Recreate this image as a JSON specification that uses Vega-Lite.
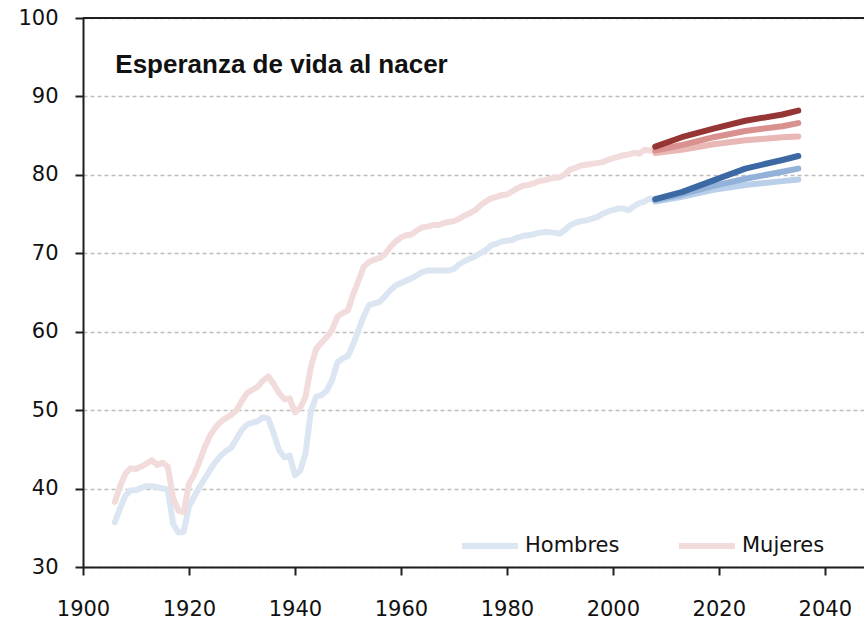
{
  "$schema": "https://vega.github.io/schema/vega-lite/v6.json",
  "width": 781,
  "height": 549,
  "autosize": {"type": "none"},
  "padding": {"left": 83, "top": 18, "right": 0, "bottom": 55},
  "background": "white",
  "config": {
    "view": {"stroke": null},
    "font": "DejaVu Sans",
    "axis": {
      "domainColor": "#1f1f1f",
      "domainWidth": 2,
      "tickColor": "#1f1f1f",
      "tickWidth": 2,
      "tickSize": 8,
      "labelFont": "DejaVu Sans",
      "labelFontSize": 21,
      "labelColor": "#111111",
      "labelFlush": false,
      "labelOverlap": false,
      "title": null,
      "gridColor": "#bdbdbd",
      "gridDash": [4, 3],
      "gridWidth": 1.5
    }
  },
  "layer": [
    {
      "data": {"values": [{"v": 100}]},
      "mark": {"type": "rule", "color": "#1f1f1f", "strokeWidth": 2},
      "encoding": {"y": {"field": "v", "type": "quantitative", "scale": {"domain": [30, 100], "nice": false, "zero": false}}}
    },
    {
      "data": {"values": [
        {"serie":"Hombres","year":1906,"value":35.7},{"serie":"Hombres","year":1907,"value":37.5},{"serie":"Hombres","year":1908,"value":39.1},{"serie":"Hombres","year":1909,"value":39.8},{"serie":"Hombres","year":1910,"value":39.8},{"serie":"Hombres","year":1911,"value":40.1},{"serie":"Hombres","year":1912,"value":40.3},{"serie":"Hombres","year":1913,"value":40.3},{"serie":"Hombres","year":1914,"value":40.2},{"serie":"Hombres","year":1915,"value":40.0},{"serie":"Hombres","year":1916,"value":39.9},{"serie":"Hombres","year":1917,"value":35.5},{"serie":"Hombres","year":1918,"value":34.4},{"serie":"Hombres","year":1919,"value":34.5},{"serie":"Hombres","year":1920,"value":37.7},{"serie":"Hombres","year":1921,"value":39.0},{"serie":"Hombres","year":1922,"value":40.2},{"serie":"Hombres","year":1923,"value":41.3},{"serie":"Hombres","year":1924,"value":42.4},{"serie":"Hombres","year":1925,"value":43.4},{"serie":"Hombres","year":1926,"value":44.2},{"serie":"Hombres","year":1927,"value":44.8},{"serie":"Hombres","year":1928,"value":45.2},{"serie":"Hombres","year":1929,"value":46.4},{"serie":"Hombres","year":1930,"value":47.5},{"serie":"Hombres","year":1931,"value":48.2},{"serie":"Hombres","year":1932,"value":48.4},{"serie":"Hombres","year":1933,"value":48.6},{"serie":"Hombres","year":1934,"value":49.1},{"serie":"Hombres","year":1935,"value":48.9},{"serie":"Hombres","year":1936,"value":47.0},{"serie":"Hombres","year":1937,"value":44.9},{"serie":"Hombres","year":1938,"value":44.0},{"serie":"Hombres","year":1939,"value":44.2},{"serie":"Hombres","year":1940,"value":41.7},{"serie":"Hombres","year":1941,"value":42.3},{"serie":"Hombres","year":1942,"value":44.5},{"serie":"Hombres","year":1943,"value":49.8},{"serie":"Hombres","year":1944,"value":51.7},{"serie":"Hombres","year":1945,"value":51.9},{"serie":"Hombres","year":1946,"value":52.5},{"serie":"Hombres","year":1947,"value":53.8},{"serie":"Hombres","year":1948,"value":56.1},{"serie":"Hombres","year":1949,"value":56.6},{"serie":"Hombres","year":1950,"value":56.9},{"serie":"Hombres","year":1951,"value":58.4},{"serie":"Hombres","year":1952,"value":60.2},{"serie":"Hombres","year":1953,"value":62.0},{"serie":"Hombres","year":1954,"value":63.4},{"serie":"Hombres","year":1955,"value":63.6},{"serie":"Hombres","year":1956,"value":63.8},{"serie":"Hombres","year":1957,"value":64.5},{"serie":"Hombres","year":1958,"value":65.3},{"serie":"Hombres","year":1959,"value":65.9},{"serie":"Hombres","year":1960,"value":66.2},{"serie":"Hombres","year":1961,"value":66.5},{"serie":"Hombres","year":1962,"value":66.8},{"serie":"Hombres","year":1963,"value":67.2},{"serie":"Hombres","year":1964,"value":67.6},{"serie":"Hombres","year":1965,"value":67.8},{"serie":"Hombres","year":1966,"value":67.8},{"serie":"Hombres","year":1967,"value":67.8},{"serie":"Hombres","year":1968,"value":67.8},{"serie":"Hombres","year":1969,"value":67.8},{"serie":"Hombres","year":1970,"value":68.0},{"serie":"Hombres","year":1971,"value":68.6},{"serie":"Hombres","year":1972,"value":69.0},{"serie":"Hombres","year":1973,"value":69.3},{"serie":"Hombres","year":1974,"value":69.6},{"serie":"Hombres","year":1975,"value":70.0},{"serie":"Hombres","year":1976,"value":70.4},{"serie":"Hombres","year":1977,"value":71.0},{"serie":"Hombres","year":1978,"value":71.2},{"serie":"Hombres","year":1979,"value":71.5},{"serie":"Hombres","year":1980,"value":71.6},{"serie":"Hombres","year":1981,"value":71.7},{"serie":"Hombres","year":1982,"value":72.0},{"serie":"Hombres","year":1983,"value":72.2},{"serie":"Hombres","year":1984,"value":72.3},{"serie":"Hombres","year":1985,"value":72.4},{"serie":"Hombres","year":1986,"value":72.6},{"serie":"Hombres","year":1987,"value":72.7},{"serie":"Hombres","year":1988,"value":72.7},{"serie":"Hombres","year":1989,"value":72.6},{"serie":"Hombres","year":1990,"value":72.5},{"serie":"Hombres","year":1991,"value":73.0},{"serie":"Hombres","year":1992,"value":73.6},{"serie":"Hombres","year":1993,"value":73.9},{"serie":"Hombres","year":1994,"value":74.1},{"serie":"Hombres","year":1995,"value":74.2},{"serie":"Hombres","year":1996,"value":74.4},{"serie":"Hombres","year":1997,"value":74.6},{"serie":"Hombres","year":1998,"value":75.0},{"serie":"Hombres","year":1999,"value":75.3},{"serie":"Hombres","year":2000,"value":75.5},{"serie":"Hombres","year":2001,"value":75.7},{"serie":"Hombres","year":2002,"value":75.7},{"serie":"Hombres","year":2003,"value":75.5},{"serie":"Hombres","year":2004,"value":76.0},{"serie":"Hombres","year":2005,"value":76.4},{"serie":"Hombres","year":2006,"value":76.6},{"serie":"Hombres","year":2007,"value":77.0},{"serie":"Hombres","year":2008,"value":76.8},
        {"serie":"Mujeres","year":1906,"value":38.3},{"serie":"Mujeres","year":1907,"value":40.3},{"serie":"Mujeres","year":1908,"value":41.9},{"serie":"Mujeres","year":1909,"value":42.6},{"serie":"Mujeres","year":1910,"value":42.5},{"serie":"Mujeres","year":1911,"value":42.8},{"serie":"Mujeres","year":1912,"value":43.2},{"serie":"Mujeres","year":1913,"value":43.6},{"serie":"Mujeres","year":1914,"value":43.0},{"serie":"Mujeres","year":1915,"value":43.3},{"serie":"Mujeres","year":1916,"value":42.8},{"serie":"Mujeres","year":1917,"value":38.8},{"serie":"Mujeres","year":1918,"value":37.2},{"serie":"Mujeres","year":1919,"value":37.0},{"serie":"Mujeres","year":1920,"value":40.6},{"serie":"Mujeres","year":1921,"value":41.8},{"serie":"Mujeres","year":1922,"value":43.5},{"serie":"Mujeres","year":1923,"value":45.3},{"serie":"Mujeres","year":1924,"value":46.8},{"serie":"Mujeres","year":1925,"value":47.8},{"serie":"Mujeres","year":1926,"value":48.5},{"serie":"Mujeres","year":1927,"value":49.0},{"serie":"Mujeres","year":1928,"value":49.4},{"serie":"Mujeres","year":1929,"value":50.0},{"serie":"Mujeres","year":1930,"value":51.2},{"serie":"Mujeres","year":1931,"value":52.2},{"serie":"Mujeres","year":1932,"value":52.6},{"serie":"Mujeres","year":1933,"value":53.0},{"serie":"Mujeres","year":1934,"value":53.8},{"serie":"Mujeres","year":1935,"value":54.3},{"serie":"Mujeres","year":1936,"value":53.3},{"serie":"Mujeres","year":1937,"value":52.2},{"serie":"Mujeres","year":1938,"value":51.4},{"serie":"Mujeres","year":1939,"value":51.5},{"serie":"Mujeres","year":1940,"value":49.7},{"serie":"Mujeres","year":1941,"value":50.3},{"serie":"Mujeres","year":1942,"value":51.7},{"serie":"Mujeres","year":1943,"value":55.5},{"serie":"Mujeres","year":1944,"value":57.8},{"serie":"Mujeres","year":1945,"value":58.6},{"serie":"Mujeres","year":1946,"value":59.3},{"serie":"Mujeres","year":1947,"value":60.2},{"serie":"Mujeres","year":1948,"value":61.9},{"serie":"Mujeres","year":1949,"value":62.4},{"serie":"Mujeres","year":1950,"value":62.7},{"serie":"Mujeres","year":1951,"value":64.8},{"serie":"Mujeres","year":1952,"value":66.5},{"serie":"Mujeres","year":1953,"value":68.3},{"serie":"Mujeres","year":1954,"value":68.9},{"serie":"Mujeres","year":1955,"value":69.2},{"serie":"Mujeres","year":1956,"value":69.4},{"serie":"Mujeres","year":1957,"value":69.9},{"serie":"Mujeres","year":1958,"value":70.8},{"serie":"Mujeres","year":1959,"value":71.5},{"serie":"Mujeres","year":1960,"value":72.0},{"serie":"Mujeres","year":1961,"value":72.3},{"serie":"Mujeres","year":1962,"value":72.4},{"serie":"Mujeres","year":1963,"value":72.9},{"serie":"Mujeres","year":1964,"value":73.3},{"serie":"Mujeres","year":1965,"value":73.4},{"serie":"Mujeres","year":1966,"value":73.6},{"serie":"Mujeres","year":1967,"value":73.6},{"serie":"Mujeres","year":1968,"value":73.8},{"serie":"Mujeres","year":1969,"value":74.0},{"serie":"Mujeres","year":1970,"value":74.1},{"serie":"Mujeres","year":1971,"value":74.4},{"serie":"Mujeres","year":1972,"value":74.8},{"serie":"Mujeres","year":1973,"value":75.1},{"serie":"Mujeres","year":1974,"value":75.5},{"serie":"Mujeres","year":1975,"value":76.1},{"serie":"Mujeres","year":1976,"value":76.6},{"serie":"Mujeres","year":1977,"value":77.0},{"serie":"Mujeres","year":1978,"value":77.2},{"serie":"Mujeres","year":1979,"value":77.4},{"serie":"Mujeres","year":1980,"value":77.5},{"serie":"Mujeres","year":1981,"value":77.9},{"serie":"Mujeres","year":1982,"value":78.3},{"serie":"Mujeres","year":1983,"value":78.6},{"serie":"Mujeres","year":1984,"value":78.7},{"serie":"Mujeres","year":1985,"value":78.9},{"serie":"Mujeres","year":1986,"value":79.2},{"serie":"Mujeres","year":1987,"value":79.3},{"serie":"Mujeres","year":1988,"value":79.5},{"serie":"Mujeres","year":1989,"value":79.6},{"serie":"Mujeres","year":1990,"value":79.7},{"serie":"Mujeres","year":1991,"value":80.1},{"serie":"Mujeres","year":1992,"value":80.7},{"serie":"Mujeres","year":1993,"value":80.9},{"serie":"Mujeres","year":1994,"value":81.2},{"serie":"Mujeres","year":1995,"value":81.3},{"serie":"Mujeres","year":1996,"value":81.4},{"serie":"Mujeres","year":1997,"value":81.5},{"serie":"Mujeres","year":1998,"value":81.6},{"serie":"Mujeres","year":1999,"value":81.9},{"serie":"Mujeres","year":2000,"value":82.1},{"serie":"Mujeres","year":2001,"value":82.3},{"serie":"Mujeres","year":2002,"value":82.5},{"serie":"Mujeres","year":2003,"value":82.6},{"serie":"Mujeres","year":2004,"value":82.8},{"serie":"Mujeres","year":2005,"value":82.7},{"serie":"Mujeres","year":2006,"value":83.2},{"serie":"Mujeres","year":2007,"value":83.1},{"serie":"Mujeres","year":2008,"value":83.3},
        {"serie":"M baja","year":2008,"value":82.8},{"serie":"M baja","year":2013,"value":83.2},{"serie":"M baja","year":2019,"value":83.9},{"serie":"M baja","year":2025,"value":84.4},{"serie":"M baja","year":2032,"value":84.8},{"serie":"M baja","year":2035,"value":84.9},
        {"serie":"M media","year":2008,"value":83.1},{"serie":"M media","year":2013,"value":83.8},{"serie":"M media","year":2019,"value":84.8},{"serie":"M media","year":2025,"value":85.6},{"serie":"M media","year":2032,"value":86.2},{"serie":"M media","year":2035,"value":86.6},
        {"serie":"M alta","year":2008,"value":83.6},{"serie":"M alta","year":2013,"value":84.8},{"serie":"M alta","year":2019,"value":85.9},{"serie":"M alta","year":2025,"value":86.9},{"serie":"M alta","year":2032,"value":87.7},{"serie":"M alta","year":2035,"value":88.2},
        {"serie":"H baja","year":2008,"value":76.6},{"serie":"H baja","year":2013,"value":77.2},{"serie":"H baja","year":2019,"value":78.1},{"serie":"H baja","year":2025,"value":78.7},{"serie":"H baja","year":2032,"value":79.2},{"serie":"H baja","year":2035,"value":79.4},
        {"serie":"H media","year":2008,"value":76.8},{"serie":"H media","year":2013,"value":77.5},{"serie":"H media","year":2019,"value":78.6},{"serie":"H media","year":2025,"value":79.5},{"serie":"H media","year":2032,"value":80.4},{"serie":"H media","year":2035,"value":80.8},
        {"serie":"H alta","year":2008,"value":76.9},{"serie":"H alta","year":2013,"value":77.8},{"serie":"H alta","year":2019,"value":79.3},{"serie":"H alta","year":2025,"value":80.8},{"serie":"H alta","year":2032,"value":81.9},{"serie":"H alta","year":2035,"value":82.4}
      ]},
      "mark": {"type": "line", "strokeWidth": 6, "strokeCap": "round", "strokeJoin": "round"},
      "encoding": {
        "x": {
          "field": "year", "type": "quantitative",
          "scale": {"domain": [1900, 2047.4], "nice": false, "zero": false},
          "axis": {"values": [1900, 1920, 1940, 1960, 1980, 2000, 2020, 2040], "format": "d", "grid": false, "labelPadding": 23}
        },
        "y": {
          "field": "value", "type": "quantitative",
          "scale": {"domain": [30, 100], "nice": false, "zero": false},
          "axis": {"values": [30, 40, 50, 60, 70, 80, 90, 100], "grid": true, "labelPadding": 17}
        },
        "color": {
          "field": "serie", "type": "nominal",
          "scale": {
            "domain": ["Hombres", "Mujeres", "M baja", "M media", "M alta", "H baja", "H media", "H alta"],
            "range": ["#dce6f2", "#f2dcdb", "#e8b7b6", "#d9918f", "#963634", "#bacfea", "#93b2da", "#3c68a4"]
          },
          "legend": {
            "values": ["Hombres", "Mujeres"],
            "title": null,
            "orient": "none",
            "legendX": 376,
            "legendY": 497,
            "direction": "horizontal",
            "symbolType": "stroke",
            "symbolSize": 3136,
            "symbolStrokeWidth": 6,
            "labelFont": "DejaVu Sans",
            "labelFontSize": 21,
            "labelColor": "#111111",
            "labelOffset": 4,
            "columnPadding": 47
          }
        }
      }
    },
    {
      "data": {"values": [{"t": "Esperanza de vida al nacer", "year": 1906.1, "value": 93.0}]},
      "mark": {"type": "text", "align": "left", "baseline": "alphabetic", "font": "Liberation Sans", "fontWeight": "bold", "fontSize": 26, "color": "#111111"},
      "encoding": {
        "x": {"field": "year", "type": "quantitative"},
        "y": {"field": "value", "type": "quantitative"},
        "text": {"field": "t"}
      }
    }
  ]
}
